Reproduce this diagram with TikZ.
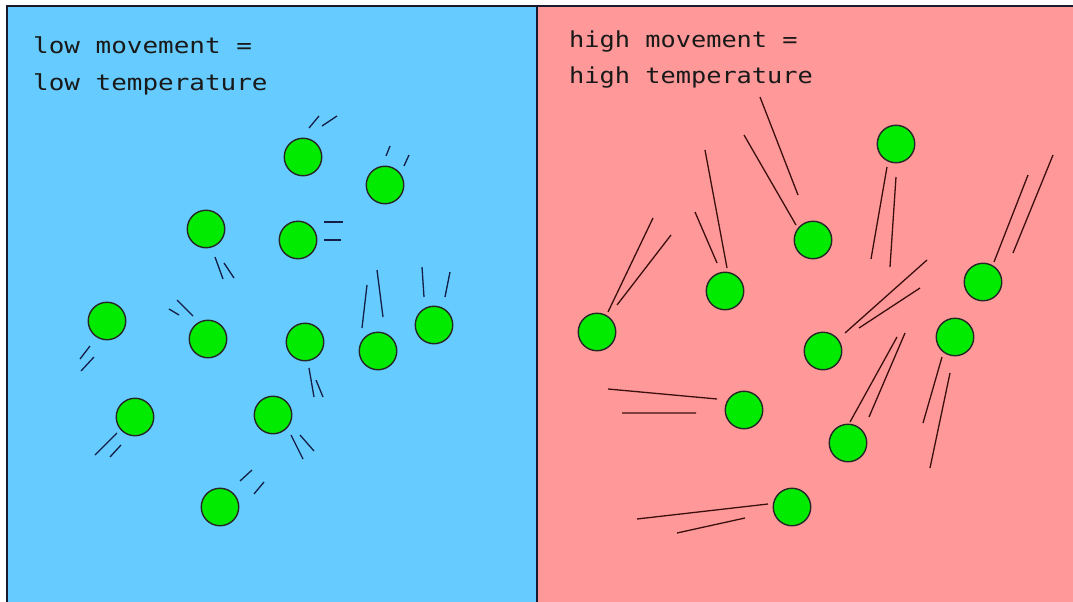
\documentclass[tikz,border=0pt]{standalone}
\usepackage{graphicx}
\usepackage{fontspec}
\newfontfamily\labelfont{DejaVu Sans Mono}
\definecolor{coldbg}{RGB}{102,204,255}
\definecolor{hotbg}{RGB}{255,153,153}
\definecolor{molgreen}{RGB}{0,235,0}
\definecolor{framecol}{RGB}{25,25,45}
\definecolor{coldmark}{RGB}{20,30,70}
\definecolor{hotmark}{RGB}{60,15,15}
\begin{document}
\begin{tikzpicture}[x=1pt,y=-1pt,
  molecule/.style={circle,draw=black!85,line width=1.4pt,fill=molgreen,minimum size=37.5pt,inner sep=0pt},
  coldtrail/.style={draw=coldmark,line width=1.3pt},
  hottrail/.style={draw=hotmark,line width=1.3pt},
  frameline/.style={draw=framecol,line width=2pt},
  caption/.style={anchor=base west,inner sep=0pt,font=\labelfont\fontsize{22}{26}\selectfont,text=black!90}]
\useasboundingbox (0,0) rectangle (1073,602);
\fill[white] (0,0) rectangle (1073,602);
\fill[coldbg] (7,6) rectangle (537,602);
\fill[hotbg] (537,6) rectangle (1073,602);
\draw[frameline] (7,602) -- (7,6) -- (1073,6);
\draw[frameline] (537,6) -- (537,602);

% captions
\node[caption] (coldA) at (33,54) {\scalebox{1.18}[1]{low movement =}};
\node[caption] (coldB) at (33,90) {\scalebox{1.18}[1]{low temperature}};
\node[caption] (hotA) at (569,48) {\scalebox{1.15}[1]{high movement =}};
\node[caption] (hotB) at (569,84) {\scalebox{1.15}[1]{high temperature}};

% cold trails
\draw[coldtrail] (309,128)--(319,116) (322,126)--(337,116);
\draw[coldtrail] (386,156)--(390,146) (404,166)--(409,155);
\draw[coldtrail] (215,257)--(223,279) (224,263)--(234,278);
\draw[coldtrail] (324,222)--(343,222) (324,240)--(341,240);
\draw[coldtrail] (90,346)--(80,359) (94,357)--(81,371);
\draw[coldtrail] (177,300)--(193,316) (169,309)--(179,315);
\draw[coldtrail] (309,368)--(314,397) (316,380)--(323,397);
\draw[coldtrail] (367,285)--(362,328) (377,270)--(383,317);
\draw[coldtrail] (422,267)--(424,297) (450,272)--(445,297);
\draw[coldtrail] (117,433)--(95,455) (121,445)--(110,457);
\draw[coldtrail] (291,435)--(303,459) (300,435)--(314,451);
\draw[coldtrail] (252,470)--(240,481) (264,482)--(254,494);

% hot trails
\draw[hottrail] (887,167)--(871,259) (896,177)--(890,267);
\draw[hottrail] (798,195)--(760,97) (796,225)--(744,135);
\draw[hottrail] (727,268)--(705,150) (717,263)--(695,212);
\draw[hottrail] (994,262)--(1028,175) (1013,253)--(1053,155);
\draw[hottrail] (608,312)--(653,218) (617,305)--(671,235);
\draw[hottrail] (845,333)--(927,260) (859,328)--(920,288);
\draw[hottrail] (942,357)--(923,423) (950,373)--(930,468);
\draw[hottrail] (717,399)--(608,389) (696,413)--(622,413);
\draw[hottrail] (850,422)--(897,337) (869,417)--(905,333);
\draw[hottrail] (768,504)--(637,519) (745,518)--(677,533);

% cold molecules
\node[molecule] (c1) at (303,157) {};
\node[molecule] (c2) at (385,185) {};
\node[molecule] (c3) at (206,229) {};
\node[molecule] (c4) at (298,240) {};
\node[molecule] (c5) at (107,321) {};
\node[molecule] (c6) at (208,339) {};
\node[molecule] (c7) at (305,342) {};
\node[molecule] (c8) at (378,351) {};
\node[molecule] (c9) at (434,325) {};
\node[molecule] (c10) at (135,417) {};
\node[molecule] (c11) at (273,415) {};
\node[molecule] (c12) at (220,507) {};

% hot molecules
\node[molecule] (h1) at (896,144) {};
\node[molecule] (h2) at (813,240) {};
\node[molecule] (h3) at (725,291) {};
\node[molecule] (h4) at (983,282) {};
\node[molecule] (h5) at (597,332) {};
\node[molecule] (h6) at (823,351) {};
\node[molecule] (h7) at (955,337) {};
\node[molecule] (h8) at (744,410) {};
\node[molecule] (h9) at (848,443) {};
\node[molecule] (h10) at (792,507) {};
\end{tikzpicture}
\end{document}
